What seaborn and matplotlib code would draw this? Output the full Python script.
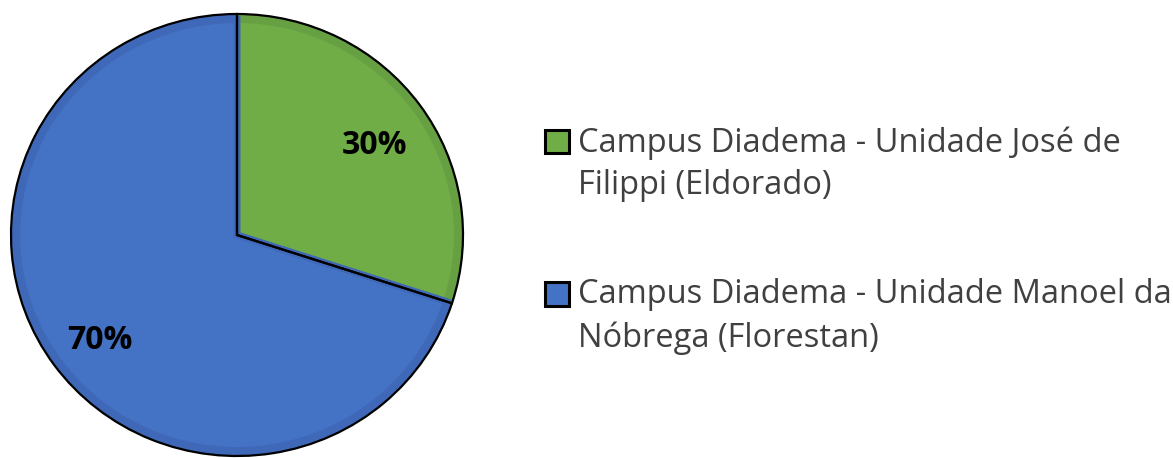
import matplotlib
matplotlib.use("Agg")
import matplotlib.pyplot as plt
from matplotlib.patches import Rectangle, Wedge
from matplotlib.legend_handler import HandlerPatch
import seaborn as sns

# Data
campus = ['Campus Diadema - Unidade José de\nFilippi (Eldorado)',
          'Campus Diadema - Unidade Manoel da\nNóbrega (Florestan)']
share = [30, 70]

colors = ['#70AD47', '#4472C4']
rim = ['#67A043', '#3F69B8']

sns.set_theme(style='white')
plt.rcParams['font.family'] = ['Open Sans', 'DejaVu Sans']

fig = plt.figure(figsize=(11.73, 4.58), dpi=100)
W, H = 1173, 458
# pie box in pixels: left 11, top 14, width 452, height 442
ax = fig.add_axes([11 / W, (H - 14 - 442) / H, 452 / W, 442 / H])

# darker rim under the main fill
ax.pie(share, colors=rim, startangle=90, counterclock=False, radius=1.0,
       wedgeprops=dict(linewidth=0))
wedges, texts, autotexts = ax.pie(
    share, colors=colors, startangle=90, counterclock=False, radius=0.975,
    autopct='%1.0f%%', pctdistance=0.771,
    textprops=dict(fontsize=23, fontweight='bold', color='black'),
    wedgeprops=dict(linewidth=0))
for w, c in zip(wedges, rim):
    w.set_edgecolor(c)
    w.set_linewidth(5)
for t in autotexts:
    x, y = t.get_position()
    t.set_position((x, y - 0.035))
outline, _ = ax.pie(share, colors=['none', 'none'], startangle=90,
                    counterclock=False, radius=1.0,
                    wedgeprops=dict(edgecolor='black', linewidth=1.6))
ax.set_aspect('auto')
ax.set_xlim(-1, 1)
ax.set_ylim(-1, 1)

FS = 23.5
LINESP = 1.39


def top_square(legend, orig_handle, xdescent, ydescent, width, height, fontsize):
    # legend aligns the handle with the last line; lift the square to the first line
    lift = 17
    return Rectangle((-xdescent, -ydescent + lift), width, width)


leg = fig.legend(wedges, campus, loc='upper left',
                 bbox_to_anchor=(545 / W, 1 - 126 / H), frameon=False,
                 fontsize=FS, handlelength=0.72, handleheight=0.72,
                 handletextpad=0.3, labelspacing=2.33, labelcolor='#404040',
                 borderpad=0, borderaxespad=0,
                 handler_map={Wedge: HandlerPatch(patch_func=top_square)})
for h in leg.legend_handles:
    h.set_edgecolor('black')
    h.set_linewidth(2.2)
for t in leg.get_texts():
    t.set_linespacing(LINESP)

fig.savefig('out.png', dpi=100)
